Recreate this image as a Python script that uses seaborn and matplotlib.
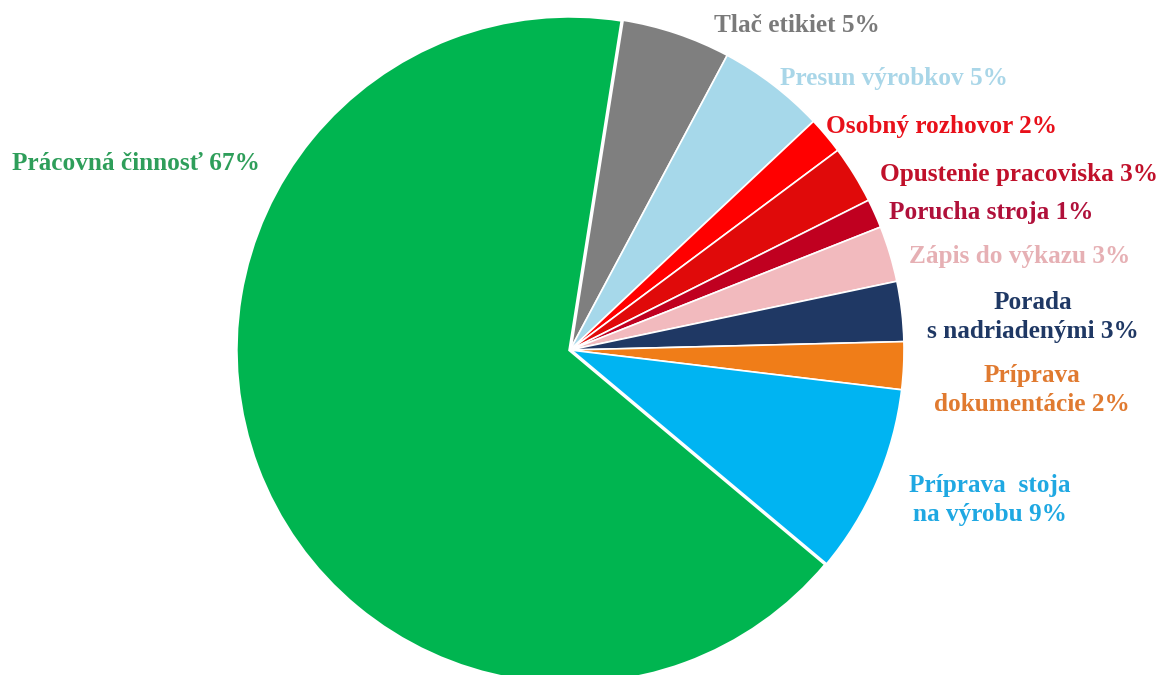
import matplotlib
matplotlib.use("Agg")
import matplotlib.pyplot as plt
import seaborn as sns

categories = ["Tlač etikiet", "Presun výrobkov", "Osobný rozhovor", "Opustenie pracoviska",
              "Porucha stroja", "Zápis do výkazu", "Porada s nadriadenými",
              "Príprava dokumentácie", "Príprava stoja na výrobu", "Prácovná činnosť"]
values = [5.3, 5.2, 1.8, 2.8, 1.4, 2.7, 2.9, 2.3, 9.2, 66.4]
labels = ["Tlač etikiet 5%", "Presun výrobkov 5%", "Osobný rozhovor 2%", "Opustenie pracoviska 3%",
          "Porucha stroja 1%", "Zápis do výkazu 3%", "Porada\ns nadriadenými 3%",
          "Príprava\ndokumentácie 2%", "Príprava  stoja\nna výrobu 9%", "Prácovná činnosť 67%"]
slice_colors = ["#7F7F7F", "#A6D8EA", "#FF0000", "#E00A0A", "#C00020", "#F2BABE",
                "#1F3864", "#F07D18", "#00B4F2", "#00B550"]
label_colors = ["#7A7A7A", "#A9D6E8", "#E8101A", "#C0102A", "#B0103A", "#E6B0B4",
                "#1F3864", "#E07A30", "#1FA8E2", "#2E9E5A"]
label_pos = [(797, 25), (894, 79), (942, 126), (1019, 175), (991, 212), (1020, 257),
             (1033, 317), (1032, 390), (990, 500), (136, 164)]

sns.set_theme(style="white")
plt.rcParams['font.family'] = ['Liberation Serif', 'DejaVu Serif']

W, H = 1160, 675
fig = plt.figure(figsize=(11.6, 6.75), dpi=100)
ax = fig.add_axes([0, 0, 1, 1])

wedges, _ = ax.pie(values, colors=slice_colors, startangle=81, counterclock=False,
                   radius=334, center=(570, H - 350), frame=True,
                   wedgeprops=dict(edgecolor="white", linewidth=1.2))
wedges[-1].set_linewidth(2.5)
ax.set_xlim(0, W)
ax.set_ylim(0, H)
ax.set_aspect('equal')
ax.axis('off')

for lab, col, (x, y) in zip(labels, label_colors, label_pos):
    ax.text(x, H - y, lab, color=col, fontsize=18.2, fontweight='bold',
            ha='center', va='center', linespacing=1.3)

fig.savefig("out.png", dpi=100)
